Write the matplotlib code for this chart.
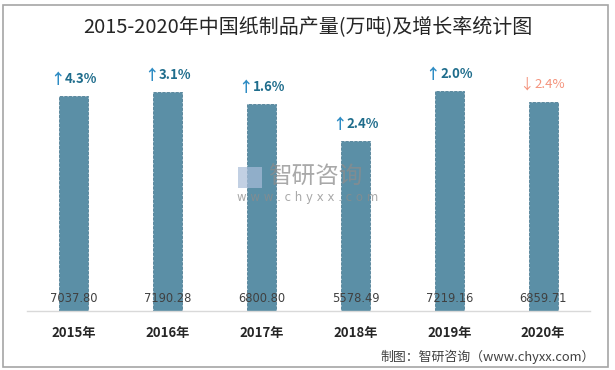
import matplotlib
matplotlib.use("Agg")
import matplotlib.pyplot as plt
from matplotlib.patches import Rectangle

plt.rcParams['font.family'] = ['Noto Sans CJK SC', 'DejaVu Sans']

years = ["2015年", "2016年", "2017年", "2018年", "2019年", "2020年"]
output = [7037.80, 7190.28, 6800.80, 5578.49, 7219.16, 6859.71]
growth = [4.3, 3.1, 1.6, 2.4, 2.0, -2.4]

BAR = "#5b8fa6"
UP_TXT = "#1f6d8c"
UP_ARROW = "#2e8cc4"
DOWN = "#f4937c"


def main():
    fig = plt.figure(figsize=(6.15, 3.70), dpi=100)
    ax = fig.add_axes([27 / 615, (370 - 311) / 370, (590 - 27) / 615, (311 - 67) / 370])

    x = list(range(len(years)))
    ax.bar(x, output, width=0.31, color=BAR, edgecolor="#4f7f96",
           linewidth=0.6, linestyle="--", zorder=2)
    ax.set_xlim(-0.5, len(years) - 0.5)
    ax.set_ylim(0, 8000)

    for s in ["top", "right", "left"]:
        ax.spines[s].set_visible(False)
    ax.spines["bottom"].set_color("#d9d9d9")
    ax.spines["bottom"].set_linewidth(1.0)
    ax.set_yticks([])
    ax.set_xticks(x)
    ax.set_xticklabels(years, fontsize=9.5, fontweight="bold", color="#262626")
    ax.tick_params(axis="x", length=0, pad=11)

    for i, (v, g) in enumerate(zip(output, growth)):
        ax.annotate(f"{v:.2f}", xy=(i, 0), xytext=(0, 13), textcoords="offset pixels",
                    ha="center", va="center", fontsize=8.3, color="#404040",
                    family=["DejaVu Sans"], zorder=3)
        if g >= 0:
            arrow, txt, c1, c2, w = "↑", f"{g:.1f}%", UP_ARROW, UP_TXT, "bold"
        else:
            arrow, txt, c1, c2, w = "↓", f"{abs(g):.1f}%", DOWN, DOWN, "normal"
        ax.annotate(arrow, xy=(i, v), xytext=(-9, 17), textcoords="offset pixels",
                    ha="right", va="center", fontsize=10.5, color=c1, fontweight=w)
        ax.annotate(txt, xy=(i, v), xytext=(-9, 17), textcoords="offset pixels",
                    ha="left", va="center", fontsize=9.5, color=c2, fontweight=w)

    fig.text(0.5, 1 - 28 / 370, "2015-2020年中国纸制品产量(万吨)及增长率统计图",
             ha="center", va="center", fontsize=14.4, color="#262626")
    fig.text(595 / 615, 1 - 357 / 370, "制图：智研咨询（www.chyxx.com）",
             ha="right", va="center", fontsize=9.3, color="#404040")

    # watermark
    fig.text(268 / 615, 1 - 177 / 370, "智研咨询", ha="left", va="center",
             fontsize=17, color="#8c8c8c", alpha=0.75, zorder=5)
    fig.text(237 / 615, 1 - 197 / 370, "w w w . c h y x x . c o m", ha="left", va="center",
             fontsize=8.5, color="#8c8c8c", alpha=0.75, zorder=5, family=["DejaVu Sans"])
    fig.patches.append(Rectangle((238 / 615, 1 - 188 / 370), 24 / 615, 21 / 370,
                                 transform=fig.transFigure, facecolor="#a8bcd8",
                                 alpha=0.7, edgecolor="none", zorder=5))

    fig.patches.append(Rectangle((3 / 615, 3 / 370), 605 / 615, 362 / 370,
                                 transform=fig.transFigure, fill=False,
                                 edgecolor="#a6a6a6", linewidth=1.2))

    fig.savefig("out.png", dpi=100)


if __name__ == "__main__":
    main()
